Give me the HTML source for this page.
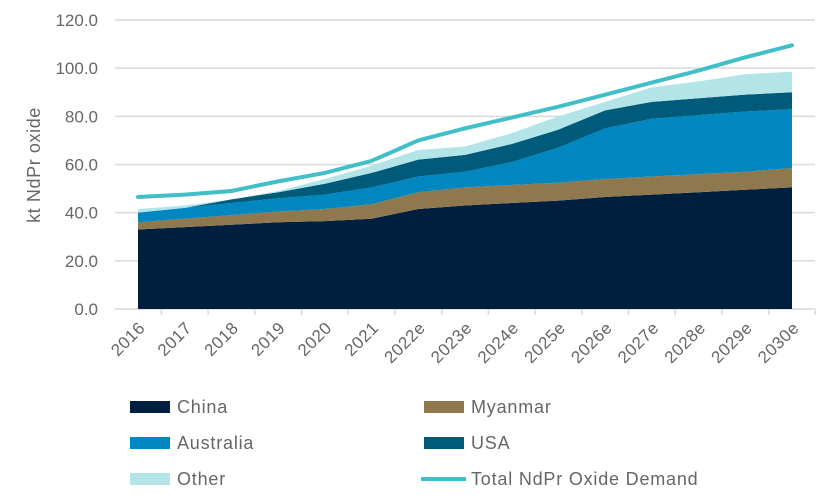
<!DOCTYPE html>
<html><head><meta charset="utf-8"><style>
body{margin:0;background:#fff;font-family:"Liberation Sans",sans-serif}
text{font-family:"Liberation Sans",sans-serif;fill:#666}
</style></head><body>
<svg id="c" width="826" height="499"></svg>
<script>
const categories=["2016","2017","2018","2019","2020","2021","2022e","2023e","2024e","2025e","2026e","2027e","2028e","2029e","2030e"];
const china=[33,34,35,36,36.5,37.5,41.5,43,44,45,46.5,47.5,48.5,49.5,50.5];
const myanmar=[3,3.5,4,4.5,5,6,7,7.5,7.5,7.5,7.5,7.5,7.5,7.5,8];
const australia=[4,4.5,5,5.5,6,7,6.5,6.5,9.5,14.5,21,24,24.5,25,24.5];
const usa=[0,0,1.5,2.5,4.5,6,7,7,7.5,7.5,7.5,7,7,7,7];
const other=[1.5,1,0,0.5,2,3,4,3.5,4.5,5.5,3.5,6,7,8.5,8.5];
const demand=[46.5,47.5,49,53,56.5,61.5,70,75,79.5,84,89,94,99,104.5,109.5];
const yTicks=["0.0","20.0","40.0","60.0","80.0","100.0","120.0"];
const NS="http://www.w3.org/2000/svg",svg=document.getElementById('c');
const x0=138,x1=792,yb=309,yt=20;
const X=i=>x0+i*(x1-x0)/(categories.length-1);
const Y=v=>yb-v*(yb-yt)/120;
function mk(t,a,p){const e=document.createElementNS(NS,t);for(const k in a)e.setAttribute(k,a[k]);(p||svg).appendChild(e);return e;}
yTicks.forEach((t,i)=>{const v=+t;
 const g=mk('line',{x1:115,x2:815,y1:Y(v),y2:Y(v),stroke:'#d9d9d9','stroke-width':1.5});
 
 const l=mk('text',{x:98,y:Y(v)+6,'text-anchor':'end','font-size':17});l.textContent=t;
 });
const series=[["china",china,"#001f3f"],["myanmar",myanmar,"#8f784d"],["australia",australia,"#0087c0"],["usa",usa,"#005a7a"],["other",other,"#b2e4e8"]];
let base=categories.map(()=>0);
series.forEach(([n,vals,col])=>{
 const top=base.map((b,i)=>b+vals[i]);
 let d=top.map((v,i)=>(i?'L':'M')+X(i)+','+Y(v)).join('');
 for(let i=categories.length-1;i>=0;i--)d+='L'+X(i)+','+Y(base[i]);
 const p=mk('path',{d:d+'Z',fill:col});
 
 base=top;});
const ln=mk('polyline',{points:demand.map((v,i)=>X(i)+','+Y(v)).join(' '),fill:'none',stroke:'#40bfc8','stroke-width':4,'stroke-linecap':'round'});

categories.forEach((c,i)=>{
 const tk=mk('line',{x1:X(i)+23.4,x2:X(i)+23.4,y1:yb,y2:yb+6,stroke:'#d9d9d9','stroke-width':1.5});
 
 const t=mk('text',{x:X(i)+8,y:yb+20,'text-anchor':'end','font-size':17,'letter-spacing':0.5,transform:`rotate(-45 ${X(i)+8} ${yb+20})`});t.textContent=c;
 });
const yt2=mk('text',{x:40,y:165,'text-anchor':'middle','font-size':18,'letter-spacing':0.6,transform:'rotate(-90 40 165)'});yt2.textContent='kt NdPr oxide';

const leg=[["China","#001f3f",130,407,0],["Myanmar","#8f784d",424,407,0],["Australia","#0087c0",130,443,0],["USA","#005a7a",424,443,0],["Other","#b2e4e8",130,479,0],["Total NdPr Oxide Demand","#40bfc8",424,479,1]];
leg.forEach(([n,col,x,y,line])=>{
 const g=mk('g',{});
 if(line)mk('line',{x1:x-3,x2:x+42,y1:y,y2:y,stroke:col,'stroke-width':4},g);
 else mk('rect',{x:x,y:y-6,width:40,height:12,fill:col},g);
 const t=mk('text',{x:x+47,y:y+6,'font-size':18,'letter-spacing':0.8},g);t.textContent=n;});
</script>
</body></html>
